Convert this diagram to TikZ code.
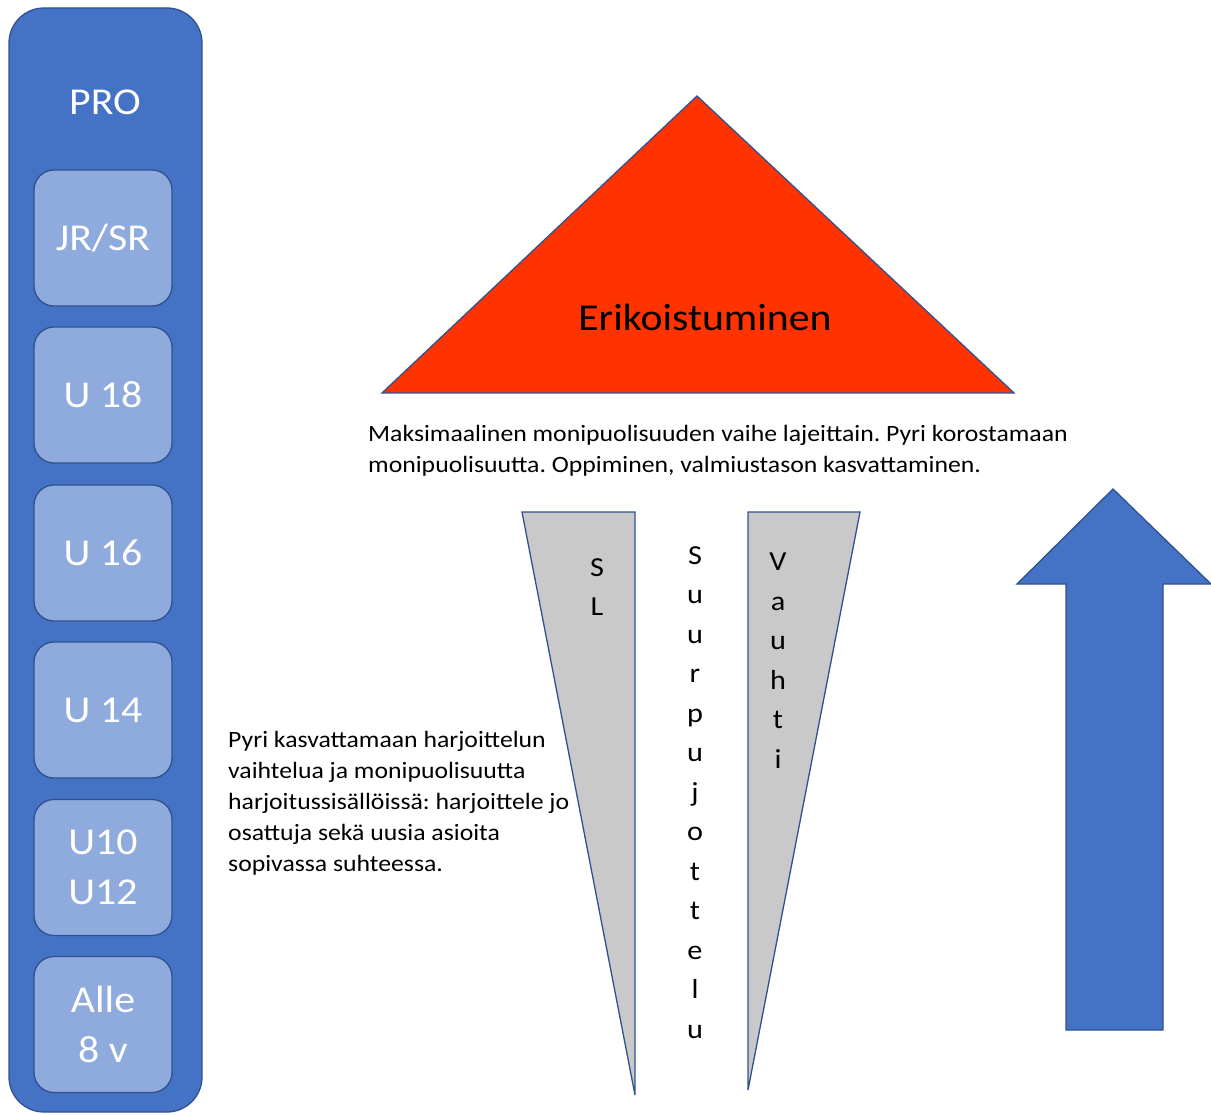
\documentclass[tikz,border=0pt]{standalone}
\usepackage{fontspec}
\setmainfont[FakeStretch=1.1]{Carlito}
\frenchspacing
\definecolor{mblue}{HTML}{4472C4}
\definecolor{bord}{HTML}{2F528F}
\definecolor{lblue}{HTML}{8FAADC}
\definecolor{tred}{HTML}{FF3300}
\definecolor{wgray}{HTML}{C9C9C9}
\tikzset{
  agebox/.style={draw=bord, fill=lblue, line width=1.3pt, rounded corners=20pt,
    minimum width=138pt, minimum height=136pt, inner sep=0pt, text=white,
    align=center, font=\fontsize{38}{50}\selectfont},
  shapeline/.style={draw=bord, line width=1.3pt},
  bodytext/.style={align=left, inner sep=0pt, anchor=north west, font=\fontsize{23.4}{31}\selectfont},
  letters/.style={align=center, inner sep=0pt, anchor=north, font=\fontsize{27.5}{39.5}\selectfont}
}
\begin{document}
\begin{tikzpicture}[x=1pt,y=-1pt]
\useasboundingbox (0,0) rectangle (1211,1115);
% outer column
\draw[shapeline, fill=mblue, rounded corners=35pt] (9,8) rectangle (202,1112);
\node[text=white, font=\fontsize{38}{50}\selectfont] (pro) at (105,102) {PRO};
\node[agebox] (jrsr) at (103,238) {JR/SR};
\node[agebox] (u18) at (103,395) {U 18};
\node[agebox] (u16) at (103,553) {U 16};
\node[agebox] (u14) at (103,710) {U 14};
\node[agebox] (u10) at (103,867.5) {U10\\U12};
\node[agebox] (alle) at (103,1024.5) {Alle\\8 v};
% triangle
\draw[shapeline, fill=tred] (697,96) -- (1014,393) -- (382,393) -- cycle;
\node[font=\fontsize{38}{50}\selectfont] (eri) at (705,317) {Erikoistuminen};
% text
\node[bodytext] (maks) at (368,425) {Maksimaalinen monipuolisuuden vaihe lajeittain. Pyri korostamaan\\monipuolisuutta. Oppiminen, valmiustason kasvattaminen.};
\node[bodytext] (pyri) at (228,731) {Pyri kasvattamaan harjoittelun\\vaihtelua ja monipuolisuutta\\harjoitussisällöissä: harjoittele jo\\osattuja sekä uusia asioita\\sopivassa suhteessa.};
% wedges
\draw[shapeline, fill=wgray] (522,512) -- (635,512) -- (635,1095) -- cycle;
\draw[shapeline, fill=wgray] (748,512) -- (860,512) -- (748,1090) -- cycle;
\node[letters] (sl) at (597,558) {S\\L};
\node[letters] (vauhti) at (778,553) {V\\a\\u\\h\\t\\i};
\node[letters] (sp) at (695,546) {S\\u\\u\\r\\p\\u\\j\\o\\t\\t\\e\\l\\u};
% arrow
\draw[shapeline, fill=mblue] (1113,489) -- (1211,584) -- (1163,584) -- (1163,1030) -- (1066,1030) -- (1066,584) -- (1017,584) -- cycle;
\end{tikzpicture}
\end{document}
